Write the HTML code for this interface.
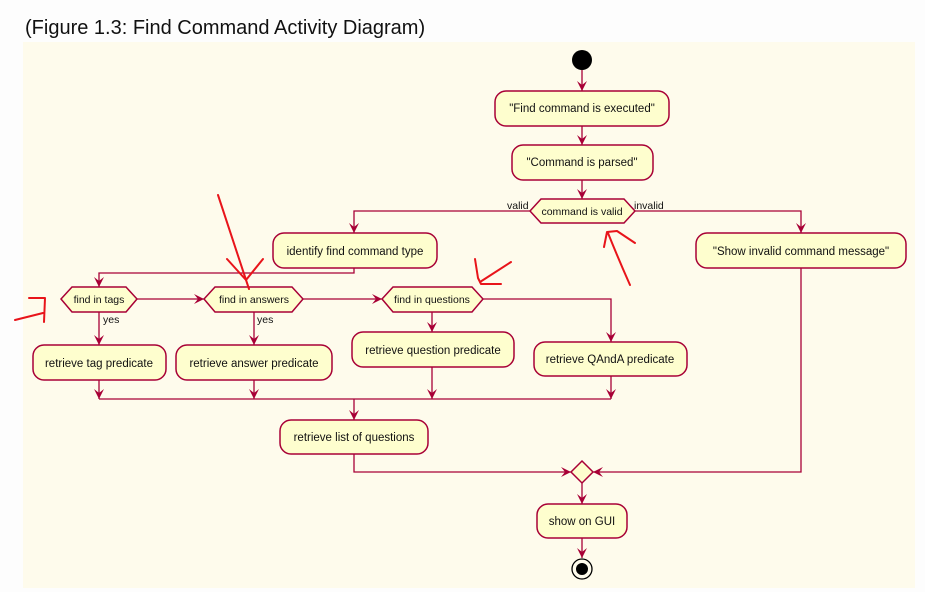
<!DOCTYPE html>
<html><head><meta charset="utf-8"><style>
html,body{margin:0;padding:0;background:#fdfdfd;width:925px;height:592px;overflow:hidden}
svg{display:block}
text{font-family:"Liberation Sans",sans-serif}
</style></head><body>
<svg width="925" height="592" viewBox="0 0 925 592">
<defs>
<marker id="a" viewBox="0 0 10 10" refX="10" refY="5" markerWidth="10" markerHeight="10" orient="auto" markerUnits="userSpaceOnUse">
<path d="M0,0 L10,5 L0,10 L4,5 Z" fill="#a80036"/>
</marker>
</defs>
<text x="25" y="34" font-size="20" fill="#111">(Figure 1.3: Find Command Activity Diagram)</text>
<rect x="23" y="42" width="892" height="546" fill="#fefbec"/>
<g stroke="#a80036" stroke-width="1.3" fill="none">
<line x1="582" y1="70" x2="582" y2="91" marker-end="url(#a)"/>
<line x1="582" y1="126" x2="582" y2="145" marker-end="url(#a)"/>
<line x1="582" y1="180" x2="582" y2="199" marker-end="url(#a)"/>
<polyline points="530,211 354,211 354,233" marker-end="url(#a)"/>
<polyline points="635,211 801,211 801,233" marker-end="url(#a)"/>
<polyline points="354,268 354,273 99,273 99,287" marker-end="url(#a)"/>
<line x1="137" y1="299" x2="204" y2="299" marker-end="url(#a)"/>
<line x1="303" y1="299" x2="382" y2="299" marker-end="url(#a)"/>
<polyline points="483,299 611,299 611,342" marker-end="url(#a)"/>
<line x1="99" y1="312" x2="99" y2="345" marker-end="url(#a)"/>
<line x1="254" y1="312" x2="254" y2="345" marker-end="url(#a)"/>
<line x1="432" y1="312" x2="432" y2="332" marker-end="url(#a)"/>
<line x1="99" y1="380" x2="99" y2="399" marker-end="url(#a)"/>
<line x1="254" y1="380" x2="254" y2="399" marker-end="url(#a)"/>
<line x1="432" y1="367" x2="432" y2="399" marker-end="url(#a)"/>
<line x1="611" y1="376" x2="611" y2="399" marker-end="url(#a)"/>
<line x1="99" y1="399" x2="611" y2="399"/>
<line x1="354" y1="399" x2="354" y2="420" marker-end="url(#a)"/>
<polyline points="354,454 354,472 571,472" marker-end="url(#a)"/>
<polyline points="801,268 801,472 593,472" marker-end="url(#a)"/>
<line x1="582" y1="483" x2="582" y2="504" marker-end="url(#a)"/>
<line x1="582" y1="538" x2="582" y2="558" marker-end="url(#a)"/>
</g>
<circle cx="582" cy="60" r="10" fill="#000"/>
<circle cx="582" cy="569" r="10" fill="none" stroke="#000" stroke-width="1.3"/>
<circle cx="582" cy="569" r="6" fill="#000"/>
<g fill="#fefece" stroke="#a80036" stroke-width="1.5">
<rect x="495" y="91" width="174" height="35" rx="11"/>
<rect x="512" y="145" width="141" height="35" rx="11"/>
<polygon points="530,211 541,199 624,199 635,211 624,223 541,223"/>
<rect x="273" y="233" width="164" height="35" rx="11"/>
<rect x="696" y="233" width="210" height="35" rx="11"/>
<polygon points="61,299 72,287 126,287 137,299 126,312 72,312"/>
<polygon points="204,299 215,287 292,287 303,299 292,312 215,312"/>
<polygon points="382,299 393,287 472,287 483,299 472,312 393,312"/>
<rect x="33" y="345" width="133" height="35" rx="11"/>
<rect x="176" y="345" width="156" height="35" rx="11"/>
<rect x="352" y="332" width="162" height="35" rx="11"/>
<rect x="534" y="342" width="153" height="34" rx="11"/>
<rect x="280" y="420" width="148" height="34" rx="11"/>
<polygon points="582,461 593,472 582,483 571,472"/>
<rect x="537" y="504" width="90" height="34" rx="11"/>
</g>
<g font-size="11.5" fill="#111" text-anchor="middle">
<text x="582" y="112">"Find command is executed"</text>
<text x="582" y="166">"Command is parsed"</text>
<text x="582" y="215" font-size="10.5">command is valid</text>
<text x="355" y="255">identify find command type</text>
<text x="801" y="255">"Show invalid command message"</text>
<text x="99" y="303" font-size="10.5">find in tags</text>
<text x="254" y="303" font-size="10.5">find in answers</text>
<text x="432" y="303" font-size="10.5">find in questions</text>
<text x="99" y="367">retrieve tag predicate</text>
<text x="254" y="367">retrieve answer predicate</text>
<text x="433" y="354">retrieve question predicate</text>
<text x="610" y="363">retrieve QAndA predicate</text>
<text x="354" y="441">retrieve list of questions</text>
<text x="582" y="525">show on GUI</text>
</g>
<g font-size="10.5" fill="#111">
<text x="507" y="209">valid</text>
<text x="634" y="209">invalid</text>
<text x="103" y="323">yes</text>
<text x="257" y="323">yes</text>
</g>
<g stroke="#e8141a" stroke-width="2" fill="none" stroke-linecap="round" stroke-linejoin="round">
<line x1="218" y1="195" x2="249" y2="289"/>
<polyline points="227,259 246,280 263,259"/>
<polyline points="475,259 478,278 481,284 501,284"/>
<line x1="480" y1="282" x2="511" y2="262"/>
<polyline points="15,320 43,313"/>
<polyline points="29,298 45,298 44,322"/>
<path d="M630,285 Q618,258 608,233"/>
<polyline points="604,247 607,232 617,231 635,243"/>
</g>
</svg>
</body></html>
